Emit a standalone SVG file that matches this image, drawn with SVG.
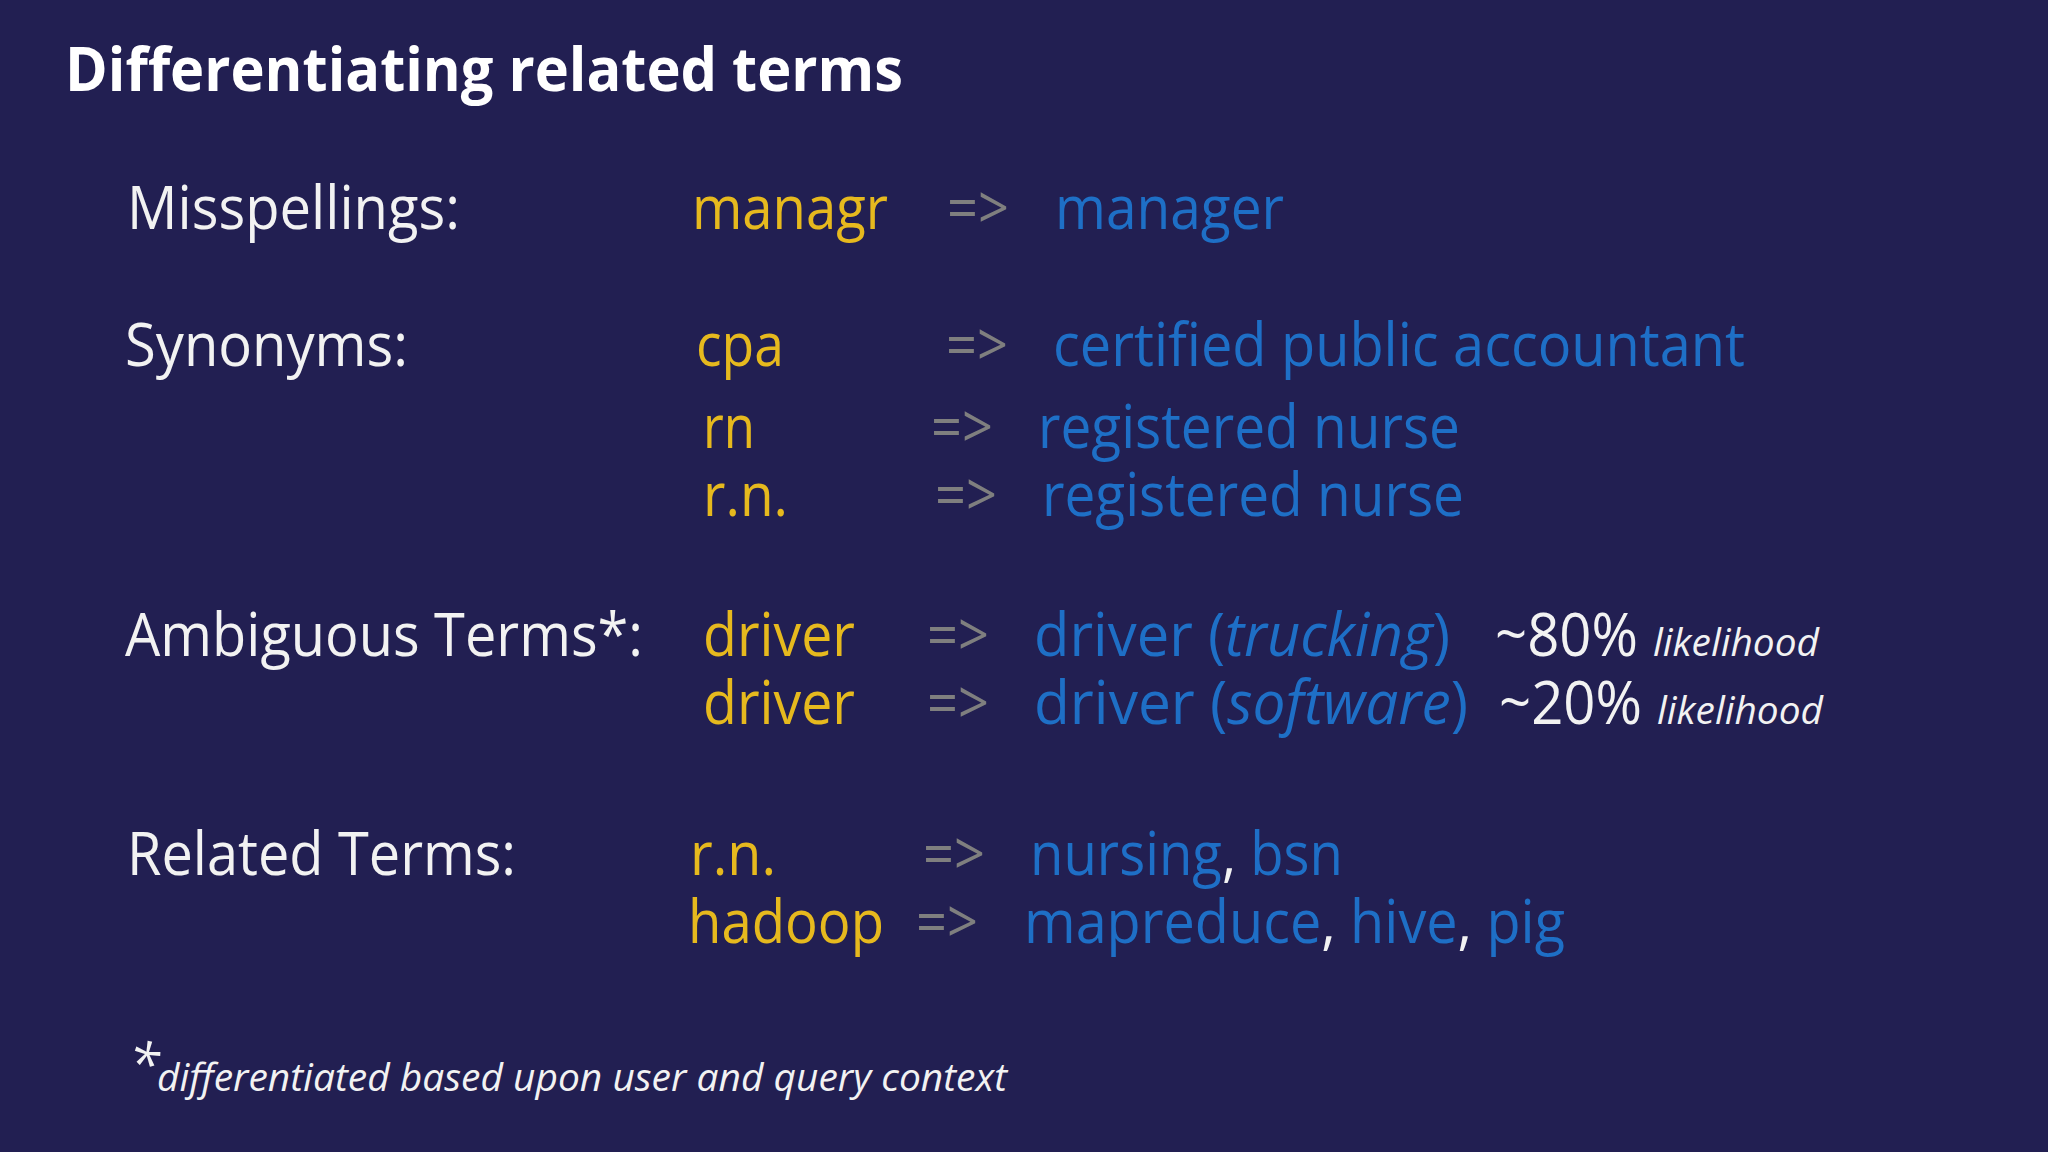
<svg xmlns="http://www.w3.org/2000/svg" width="2048" height="1152" viewBox="0 0 2048 1152">
<style>
text{font-family:"Open Sans","Noto Sans",sans-serif;font-size:60px}
.t{font-weight:bold;font-size:60px;fill:#fff}
.w{fill:#f2f2f2}
.y{fill:#e6b91e}
.g{fill:#7f7f7f}
.b{fill:#1e6fc6}
.i{font-style:italic}
.s{font-size:38px;font-style:italic;fill:#f2f2f2}
</style>
<rect width="2048" height="1152" fill="#221f52"/>
<g id="title"><text class="t" x="65" y="91" textLength="838" lengthAdjust="spacingAndGlyphs">Differentiating related terms</text></g>
<g id="misspellings">
<text class="w" x="127" y="229" textLength="333" lengthAdjust="spacingAndGlyphs">Misspellings:</text>
<text class="y" x="692" y="229" textLength="196" lengthAdjust="spacingAndGlyphs">managr</text>
<text class="g" x="947" y="229" textLength="62" lengthAdjust="spacingAndGlyphs">=&gt;</text>
<text class="b" x="1055" y="229" textLength="229" lengthAdjust="spacingAndGlyphs">manager</text>
</g>
<g id="synonyms">
<text class="w" x="125" y="366" textLength="283" lengthAdjust="spacingAndGlyphs">Synonyms:</text>
<text class="y" x="696" y="366" textLength="88" lengthAdjust="spacingAndGlyphs">cpa</text>
<text class="g" x="946" y="366" textLength="62" lengthAdjust="spacingAndGlyphs">=&gt;</text>
<text class="b" x="1053" y="366" textLength="692" lengthAdjust="spacingAndGlyphs">certified public accountant</text>
<text class="y" x="703" y="448" textLength="52" lengthAdjust="spacingAndGlyphs">rn</text>
<text class="g" x="931" y="448" textLength="62" lengthAdjust="spacingAndGlyphs">=&gt;</text>
<text class="b" x="1038" y="448" textLength="422" lengthAdjust="spacingAndGlyphs">registered nurse</text>
<text class="y" x="703" y="516" textLength="85" lengthAdjust="spacingAndGlyphs">r.n.</text>
<text class="g" x="935" y="516" textLength="62" lengthAdjust="spacingAndGlyphs">=&gt;</text>
<text class="b" x="1042" y="516" textLength="422" lengthAdjust="spacingAndGlyphs">registered nurse</text>
</g>
<g id="ambiguous">
<text class="w" x="125" y="656" textLength="518" lengthAdjust="spacingAndGlyphs">Ambiguous Terms*:</text>
<text class="y" x="703" y="656" textLength="152" lengthAdjust="spacingAndGlyphs">driver</text>
<text class="g" x="927" y="656" textLength="62" lengthAdjust="spacingAndGlyphs">=&gt;</text>
<text class="b" x="1034" y="656" textLength="416" lengthAdjust="spacingAndGlyphs">driver (<tspan class="i">trucking</tspan>)</text>
<text class="w" x="1495" y="656" textLength="143" lengthAdjust="spacingAndGlyphs">~80%</text>
<text class="s" x="1653" y="656" textLength="166" lengthAdjust="spacingAndGlyphs">likelihood</text>
<text class="y" x="703" y="724" textLength="152" lengthAdjust="spacingAndGlyphs">driver</text>
<text class="g" x="927" y="724" textLength="62" lengthAdjust="spacingAndGlyphs">=&gt;</text>
<text class="b" x="1034" y="724" textLength="434" lengthAdjust="spacingAndGlyphs">driver (<tspan class="i">software</tspan>)</text>
<text class="w" x="1499" y="724" textLength="143" lengthAdjust="spacingAndGlyphs">~20%</text>
<text class="s" x="1657" y="724" textLength="166" lengthAdjust="spacingAndGlyphs">likelihood</text>
</g>
<g id="related">
<text class="w" x="127" y="875" textLength="389" lengthAdjust="spacingAndGlyphs">Related Terms:</text>
<text class="y" x="690" y="875" textLength="86" lengthAdjust="spacingAndGlyphs">r.n.</text>
<text class="g" x="923" y="875" textLength="62" lengthAdjust="spacingAndGlyphs">=&gt;</text>
<text class="b" x="1030" y="875" textLength="313" lengthAdjust="spacingAndGlyphs">nursing<tspan class="w">,</tspan> bsn</text>
<text class="y" x="688" y="943" textLength="196" lengthAdjust="spacingAndGlyphs">hadoop</text>
<text class="g" x="916" y="943" textLength="62" lengthAdjust="spacingAndGlyphs">=&gt;</text>
<text class="b" x="1024" y="943" textLength="541" lengthAdjust="spacingAndGlyphs">mapreduce<tspan class="w">,</tspan> hive<tspan class="w">,</tspan> pig</text>
</g>
<g id="footnote">
<text class="w" x="129" y="1084" style="font-size:56px;font-style:italic">*</text>
<text class="s" x="157" y="1091" textLength="850" lengthAdjust="spacingAndGlyphs">differentiated based upon user and query context</text>
</g>
</svg>
